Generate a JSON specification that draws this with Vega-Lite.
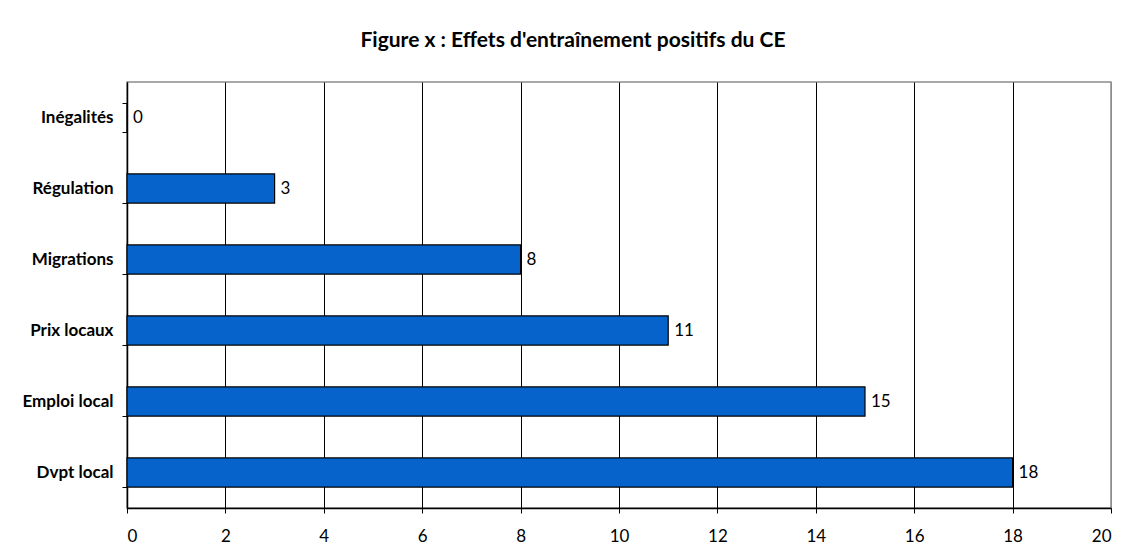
{
  "$schema": "https://vega.github.io/schema/vega-lite/v6.json",
  "autosize": {"type": "none"},
  "width": 984,
  "height": 426,
  "padding": {"left": 127, "top": 82, "right": 18, "bottom": 51},
  "background": "white",
  "title": {
    "text": "Figure x : Effets d'entraînement positifs du CE",
    "anchor": "middle",
    "frame": "group",
    "dx": -46,
    "dy": 30,
    "offset": 35,
    "baseline": "alphabetic",
    "font": "Lato",
    "fontSize": 21,
    "fontWeight": "bold",
    "color": "black"
  },
  "config": {
    "view": {"stroke": "#8c8c8c", "strokeWidth": 1.5},
    "axis": {"labelFont": "Lato", "labelColor": "black", "domainColor": "black", "tickColor": "black", "titleFont": "Lato"}
  },
  "data": {
    "values": [
      {"cat": "Inégalités", "val": 0},
      {"cat": "Régulation", "val": 3},
      {"cat": "Migrations", "val": 8},
      {"cat": "Prix locaux", "val": 11},
      {"cat": "Emploi local", "val": 15},
      {"cat": "Dvpt local", "val": 18}
    ]
  },
  "encoding": {
    "y": {
      "field": "cat",
      "type": "nominal",
      "sort": null,
      "scale": {"paddingInner": 0.59, "paddingOuter": 0.295},
      "axis": {
        "title": null,
        "tickBand": "extent",
        "tickSize": 5,
        "labelPadding": 9,
        "labelFontSize": 17,
        "labelFontWeight": "bold",
        "grid": false,
        "domainWidth": 1.5
      }
    },
    "x": {
      "field": "val",
      "type": "quantitative",
      "scale": {"domain": [0, 20], "nice": false},
      "axis": {
        "title": null,
        "values": [0, 2, 4, 6, 8, 10, 12, 14, 16, 18, 20],
        "tickSize": 5,
        "labelPadding": 15,
        "labelFontSize": 17,
        "grid": true,
        "gridColor": {"condition": {"test": "datum.value == 20", "value": "#8c8c8c"}, "value": "black"},
        "gridWidth": 1,
        "gridOpacity": 1,
        "domainWidth": 1.5
      }
    }
  },
  "layer": [
    {
      "mark": {"type": "bar", "color": "#0563CB", "stroke": "black", "strokeWidth": 1.2}
    },
    {
      "mark": {"type": "text", "align": "left", "baseline": "middle", "dx": 6, "font": "Lato", "fontSize": 17, "color": "black"},
      "encoding": {"text": {"field": "val", "type": "quantitative"}}
    }
  ]
}
